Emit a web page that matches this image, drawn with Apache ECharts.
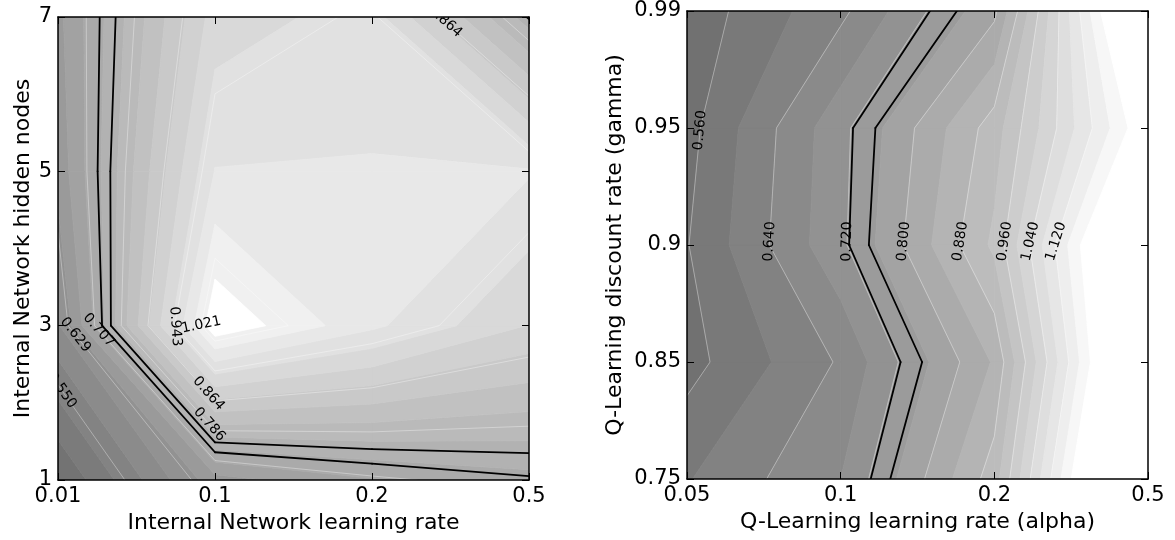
<!DOCTYPE html>
<html><head><meta charset="utf-8">
<script src="https://cdn.jsdelivr.net/npm/echarts@6/dist/echarts.min.js"></script>
<style>html,body{margin:0;padding:0;background:#fff}#c{width:1175px;height:540px}</style>
</head><body><div id="c"></div>
<script>
// ---------- Left panel: Internal Network ----------
const leftXTicks = ['0.01', '0.1', '0.2', '0.5'];
const leftYTicks = ['1', '3', '5', '7'];
// grid values, one array per hidden-node row (x = learning rate index)
const leftRow1 = [0.4714, 0.656, 0.700, 0.7245];
const leftRow3 = [0.599, 1.062, 0.975, 0.900];
const leftRow5 = [0.648, 0.969, 0.970, 0.971];
const leftRow7 = [0.661, 0.917, 0.950, 0.752];
const leftFillLevels = [0.4714, 0.5045, 0.5376, 0.5707, 0.6038, 0.6368, 0.6699, 0.7030, 0.7361, 0.7692, 0.8023, 0.8354, 0.8684, 0.9015, 0.9346, 0.9677, 1.0008, 1.0339];
const leftLabelLevels = [0.5500, 0.6286, 0.7071, 0.7857, 0.8643, 0.9429, 1.0214];
const leftBlackLevels = [0.729, 0.755];
// [level, row to search along, which crossing, fixed angle in degrees (NaN = follow line)]
const leftLabelSpots = [[0.5500, 0.58, 0, NaN], [0.6286, 0.94, 0, NaN], [0.7071, 0.97, 0, NaN], [0.7857, 0.36, 0, NaN], [0.8643, 0.56, 0, NaN], [0.9429, 0.995, 0, -86], [1.0214, 1.005, 0, 12], [0.8643, 2.97, 1, NaN]];

// ---------- Right panel: Q-Learning ----------
const rightXTicks = ['0.05', '0.1', '0.2', '0.5'];
const rightYTicks = ['0.75', '0.85', '0.9', '0.95', '0.99'];
const rightRow075 = [0.597, 0.680, 0.900, 1.500];
const rightRow085 = [0.545, 0.645, 0.845, 1.413];
const rightRow090 = [0.558, 0.711, 0.929, 1.413];
const rightRow095 = [0.546, 0.7075, 0.900, 1.245];
const rightRow099 = [0.534, 0.630, 0.790, 1.384];
const rightFillLevels = [0.48, 0.52, 0.56, 0.60, 0.64, 0.68, 0.72, 0.76, 0.80, 0.84, 0.88, 0.92, 0.96, 1.00, 1.04, 1.08, 1.12, 1.16, 1.20];
const rightLabelLevels = [0.56, 0.64, 0.72, 0.80, 0.88, 0.96, 1.04, 1.12];
const rightBlackLevels = [0.723, 0.751];
const rightLabelSpots = [[0.56, 2.98, 0, NaN], [0.64, 2.03, 0, NaN], [0.72, 2.03, 0, NaN], [0.80, 2.03, 0, NaN], [0.88, 2.03, 0, NaN], [0.96, 2.03, 0, NaN], [1.04, 2.03, 0, NaN], [1.12, 2.03, 0, NaN]];

const FONT = '"DejaVu Sans", "Bitstream Vera Sans", sans-serif';
const leftZ = [leftRow1, leftRow3, leftRow5, leftRow7];
const rightZ = [rightRow075, rightRow085, rightRow090, rightRow095, rightRow099];

function cells(Z) {
  const out = [];
  for (let j = 0; j < Z.length - 1; j++) for (let i = 0; i < Z[0].length - 1; i++) out.push([i, j]);
  return out;
}
function corners(Z, i, j) {
  return [[i, j, Z[j][i]], [i + 1, j, Z[j][i + 1]], [i + 1, j + 1, Z[j + 1][i + 1]], [i, j + 1, Z[j + 1][i]]];
}
function clipPoly(poly, L, keepAbove) {
  const out = [];
  for (let a = 0; a < poly.length; a++) {
    const P = poly[a], Q = poly[(a + 1) % poly.length];
    const pin = keepAbove ? P[2] >= L : P[2] <= L;
    const qin = keepAbove ? Q[2] >= L : Q[2] <= L;
    if (pin) out.push(P);
    if (pin !== qin) {
      const t = (L - P[2]) / (Q[2] - P[2]);
      out.push([P[0] + t * (Q[0] - P[0]), P[1] + t * (Q[1] - P[1]), L]);
    }
  }
  return out;
}
function bandColor(levels, k, vref) {
  if (k === levels.length) return '#ffffff';
  const step = levels[1] - levels[0];
  const lo = k === 0 ? levels[0] - step : levels[k - 1];
  const mid = (lo + levels[k]) / 2;
  const g = Math.max(0, Math.min(255, Math.round(255 * mid / vref)));
  return 'rgb(' + g + ',' + g + ',' + g + ')';
}
function cellSegments(Z, i, j, L) {
  const c = corners(Z, i, j);
  const pts = [];
  for (let e = 0; e < 4; e++) {
    const P = c[e], Q = c[(e + 1) % 4];
    if ((P[2] >= L) !== (Q[2] >= L)) {
      const t = (L - P[2]) / (Q[2] - P[2]);
      pts.push([P[0] + t * (Q[0] - P[0]), P[1] + t * (Q[1] - P[1])]);
    } else pts.push(null);
  }
  const found = pts.filter(p => p);
  if (found.length === 2) return [[found[0], found[1]]];
  if (found.length === 4) {
    const m = (c[0][2] + c[1][2] + c[2][2] + c[3][2]) / 4;
    if ((m >= L) === (c[1][2] >= L)) return [[pts[3], pts[0]], [pts[1], pts[2]]];
    return [[pts[0], pts[1]], [pts[2], pts[3]]];
  }
  return [];
}
function fillRenderer(Z, levels, vref) {
  return function (params, api) {
    const i = api.value(0), j = api.value(1);
    const base = corners(Z, i, j);
    const children = [];
    for (let k = 0; k <= levels.length; k++) {
      let poly = base;
      if (k > 0) poly = clipPoly(poly, levels[k - 1], true);
      if (k < levels.length && poly.length) poly = clipPoly(poly, levels[k], false);
      if (poly.length >= 3) {
        const col = bandColor(levels, k, vref);
        children.push({ type: 'polygon', shape: { points: poly.map(p => api.coord([p[0], p[1]])) },
          style: { fill: col, stroke: col, lineWidth: 0.8 } });
      }
    }
    return { type: 'group', children };
  };
}
function lineRenderer(Z, thin, black) {
  return function (params, api) {
    const i = api.value(0), j = api.value(1);
    const children = [];
    const add = (L, style) => cellSegments(Z, i, j, L).forEach(s => {
      const a = api.coord(s[0]), b = api.coord(s[1]);
      children.push({ type: 'line', shape: { x1: a[0], y1: a[1], x2: b[0], y2: b[1] }, style });
    });
    thin.forEach(L => add(L, { stroke: 'rgba(255,255,255,0.35)', lineWidth: 1 }));
    black.forEach(L => add(L, { stroke: '#000', lineWidth: 1.8, lineCap: 'round' }));
    return { type: 'group', children };
  };
}
function labelRenderer(Z) {
  return function (params, api) {
    const L = api.value(0), row = api.value(1), nth = api.value(2), fixed = api.value(3);
    const hits = [];
    cells(Z).forEach(([i, j]) => cellSegments(Z, i, j, L).forEach(([p, q]) => {
      if ((p[1] - row) * (q[1] - row) <= 0 && p[1] !== q[1]) {
        const t = (row - p[1]) / (q[1] - p[1]);
        hits.push({ x: p[0] + t * (q[0] - p[0]), p, q });
      }
    }));
    hits.sort((a, b) => a.x - b.x);
    const h = hits[nth];
    if (!h) return;
    const c = api.coord([h.x, row]);
    let ang;
    if (isFinite(fixed)) {
      ang = fixed * Math.PI / 180;
    } else {
      const P = api.coord(h.p), Q = api.coord(h.q);
      ang = Math.atan2(-(Q[1] - P[1]), Q[0] - P[0]);
      if (ang > Math.PI / 2) ang -= Math.PI;
      if (ang <= -Math.PI / 2) ang += Math.PI;
    }
    return { type: 'text', x: c[0], y: c[1], rotation: ang,
      style: { text: L.toFixed(3), fill: '#000', font: '14px ' + FONT,
        align: 'center', verticalAlign: 'middle', textAlign: 'center', textVerticalAlign: 'middle' } };
  };
}

function xAxisDef(grid, ticks, name, top) {
  return {
    type: 'value', gridIndex: grid, min: 0, max: ticks.length - 1, interval: 1, position: top ? 'top' : 'bottom', z: 5,
    axisLine: { show: true, onZero: false, lineStyle: { color: '#000', width: 1.5 } },
    axisTick: { show: true, inside: true, length: 7, lineStyle: { color: '#000', width: 1 } },
    splitLine: { show: false },
    axisLabel: { show: !top, formatter: v => ticks[Math.round(v)], fontSize: 21, fontFamily: FONT, color: '#000', margin: 6 },
    name: top ? '' : name, nameLocation: 'middle', nameGap: 28,
    nameTextStyle: { fontSize: 22, fontFamily: FONT, color: '#000' }
  };
}
function yAxisDef(grid, ticks, name, right, gap) {
  return {
    type: 'value', gridIndex: grid, min: 0, max: ticks.length - 1, interval: 1, position: right ? 'right' : 'left', z: 5,
    axisLine: { show: true, onZero: false, lineStyle: { color: '#000', width: 1.5 } },
    axisTick: { show: true, inside: true, length: 7, lineStyle: { color: '#000', width: 1 } },
    splitLine: { show: false },
    axisLabel: { show: !right, formatter: v => ticks[Math.round(v)], fontSize: 21, fontFamily: FONT, color: '#000', margin: 6 },
    name: right ? '' : name, nameLocation: 'middle', nameGap: gap, nameRotate: 90,
    nameTextStyle: { fontSize: 22, fontFamily: FONT, color: '#000' }
  };
}

const chart = echarts.init(document.getElementById('c'), null, { renderer: 'canvas' });
chart.setOption({
  animation: false,
  backgroundColor: '#fff',
  grid: [
    { left: 58, top: 17, width: 471, height: 463 },
    { left: 687, top: 11, width: 461, height: 468 }
  ],
  xAxis: [
    xAxisDef(0, leftXTicks, 'Internal Network learning rate', false),
    xAxisDef(0, leftXTicks, '', true),
    xAxisDef(1, rightXTicks, 'Q-Learning learning rate (alpha)', false),
    xAxisDef(1, rightXTicks, '', true)
  ],
  yAxis: [
    yAxisDef(0, leftYTicks, 'Internal Network hidden nodes', false, 21),
    yAxisDef(0, leftYTicks, '', true, 0),
    yAxisDef(1, rightYTicks, 'Q-Learning discount rate (gamma)', false, 61),
    yAxisDef(1, rightYTicks, '', true, 0)
  ],
  series: [
    { type: 'custom', xAxisIndex: 0, yAxisIndex: 0, clip: true, z: 1, silent: true, data: cells(leftZ), renderItem: fillRenderer(leftZ, leftFillLevels, 1.08) },
    { type: 'custom', xAxisIndex: 0, yAxisIndex: 0, clip: true, z: 2, silent: true, data: cells(leftZ), renderItem: lineRenderer(leftZ, leftLabelLevels, leftBlackLevels) },
    { type: 'custom', xAxisIndex: 0, yAxisIndex: 0, clip: true, z: 3, silent: true, data: leftLabelSpots, renderItem: labelRenderer(leftZ) },
    { type: 'custom', xAxisIndex: 2, yAxisIndex: 2, clip: true, z: 1, silent: true, data: cells(rightZ), renderItem: fillRenderer(rightZ, rightFillLevels, 1.22) },
    { type: 'custom', xAxisIndex: 2, yAxisIndex: 2, clip: true, z: 2, silent: true, data: cells(rightZ), renderItem: lineRenderer(rightZ, rightLabelLevels, rightBlackLevels) },
    { type: 'custom', xAxisIndex: 2, yAxisIndex: 2, clip: true, z: 3, silent: true, data: rightLabelSpots, renderItem: labelRenderer(rightZ) }
  ]
});
</script></body></html>
